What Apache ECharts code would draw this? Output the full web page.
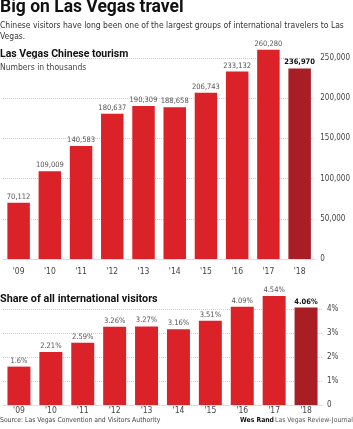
<!DOCTYPE html>
<html>
<head>
<meta charset="utf-8">
<script src="https://cdn.jsdelivr.net/npm/echarts@6/dist/echarts.min.js"></script>
<style>
  html, body { margin: 0; padding: 0; background: #fff; }
  #chart { width: 353px; height: 429px; }
</style>
</head>
<body>
<div id="chart"></div>
<script>
var years = ["'09", "'10", "'11", "'12", "'13", "'14", "'15", "'16", "'17", "'18"];
var visitors = [70112, 109009, 140583, 180637, 190309, 188658, 206743, 233132, 260280, 236970];
var share = [1.6, 2.21, 2.59, 3.26, 3.27, 3.16, 3.51, 4.09, 4.54, 4.06];
var shareText = ['1.6%', '2.21%', '2.59%', '3.26%', '3.27%', '3.16%', '3.51%', '4.09%', '4.54%', '4.06%'];

var narrow = '"Liberation Sans Narrow", "DejaVu Sans Condensed", sans-serif';
var red = '#dc2229', darkRed = '#a91d25';

// last bar (2018) is darker, its label bold
function barData(vals) {
  return vals.map(function (v, i) {
    var last = i === vals.length - 1;
    return {
      value: v,
      itemStyle: { color: last ? darkRed : red },
      label: last ? { color: '#111', fontWeight: 'bold' } : {}
    };
  });
}

var myChart = echarts.init(document.getElementById('chart'));

option = {
  animation: false,
  textStyle: { fontFamily: narrow },
  graphic: [
    { type: 'text', left: 0, top: -1, style: { text: 'Big on Las Vegas travel', font: 'bold 17.5px Roboto, sans-serif', fill: '#111' } },
    { type: 'text', left: 0, top: 20, style: { text: 'Chinese visitors have long been one of the largest groups of international travelers to Las\nVegas.', font: '8.5px ' + narrow, fill: '#333', lineHeight: 11 } },
    { type: 'text', left: 0, top: 49, style: { text: 'Las Vegas Chinese tourism', font: 'bold 10.5px Roboto, sans-serif', fill: '#111' } },
    { type: 'text', left: 0, top: 63.5, style: { text: 'Numbers in thousands', font: '8.5px ' + narrow, fill: '#444' } },
    { type: 'text', left: 0, top: 294, style: { text: 'Share of all international visitors', font: 'bold 10.8px Roboto, sans-serif', fill: '#111' } },
    { type: 'text', left: 0, top: 416.5, style: { text: 'Source: Las Vegas Convention and Visitors Authority', font: '6.8px ' + narrow, fill: '#444' } },
    { type: 'text', left: 240, top: 416.5, style: { text: 'Wes Rand', font: 'bold 6.8px ' + narrow, fill: '#111' } },
    { type: 'text', right: 0, top: 416.5, style: { text: 'Las Vegas Review-Journal', font: '6.8px ' + narrow, fill: '#555' } }
  ],
  grid: [
    { left: 3, right: 31, top: 58, bottom: 170 },
    { left: 3, right: 31, top: 309, bottom: 24 }
  ],
  xAxis: [
    {
      gridIndex: 0, type: 'category', data: years,
      axisLine: { lineStyle: { color: '#ddd' } }, axisTick: { show: false },
      axisLabel: { color: '#444', fontSize: 8.5, margin: 8 }
    },
    {
      gridIndex: 1, type: 'category', data: years,
      axisLine: { lineStyle: { color: '#ddd' } }, axisTick: { show: false },
      axisLabel: { color: '#444', fontSize: 8.5, margin: 1 }
    }
  ],
  yAxis: [
    {
      gridIndex: 0, type: 'value', position: 'right', min: 0, max: 250000, interval: 50000,
      axisLine: { show: false }, axisTick: { show: false },
      axisLabel: { color: '#444', fontSize: 8, margin: 5, formatter: function (v) { return v === 0 ? '0' : v.toLocaleString('en-US'); } },
      splitLine: { lineStyle: { color: '#ccc', type: 'dotted' } }
    },
    {
      gridIndex: 1, type: 'value', position: 'right', min: 0, max: 4, interval: 1,
      axisLine: { show: false }, axisTick: { show: false },
      axisLabel: { color: '#444', fontSize: 8, margin: 5, formatter: function (v) { return v === 0 ? '0' : v + '%'; } },
      splitLine: { lineStyle: { color: '#ccc', type: 'dotted' } }
    }
  ],
  series: [
    {
      type: 'bar', xAxisIndex: 0, yAxisIndex: 0, clip: false,
      barCategoryGap: '28%',
      data: barData(visitors),
      label: {
        show: true, position: 'top', distance: 2, color: '#555', fontSize: 7.5,
        formatter: function (p) { return p.value.toLocaleString('en-US'); }
      }
    },
    {
      type: 'bar', xAxisIndex: 1, yAxisIndex: 1, clip: false,
      barCategoryGap: '28%',
      data: barData(share),
      label: {
        show: true, position: 'top', distance: 2, color: '#555', fontSize: 7.5,
        formatter: function (p) { return shareText[p.dataIndex]; }
      }
    }
  ]
};

myChart.setOption(option);
</script>
</body>
</html>
